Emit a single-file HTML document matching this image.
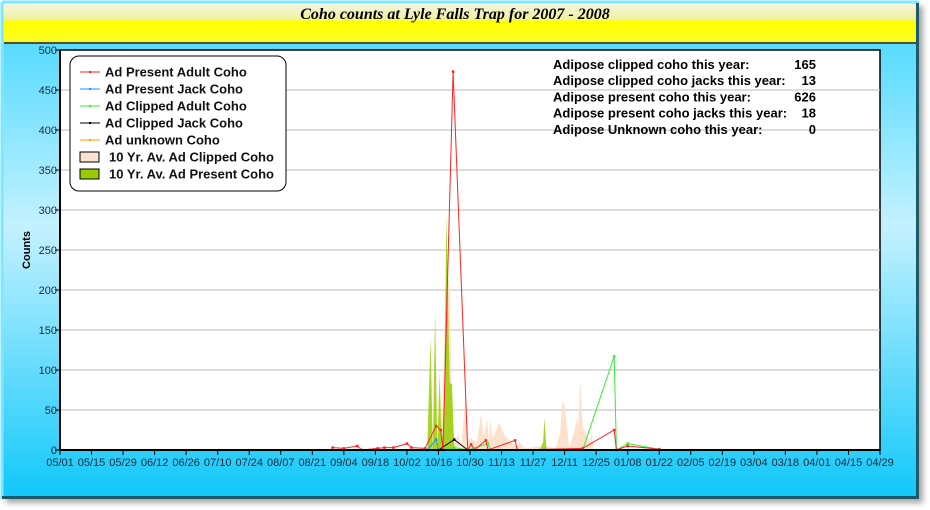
<!DOCTYPE html>
<html><head><meta charset="utf-8"><style>
body{margin:0;width:930px;height:510px;background:#fff;overflow:hidden;font-family:"Liberation Sans",sans-serif}
svg{display:block}
</style></head><body>
<svg id="chart" width="930" height="510" xmlns="http://www.w3.org/2000/svg">
<defs>
<linearGradient id="bg" x1="0" y1="0" x2="0" y2="1">
<stop offset="0" stop-color="#3fd6ff"/><stop offset="0.45" stop-color="#c4f1ff"/><stop offset="1" stop-color="#10c8fa"/>
</linearGradient>
<linearGradient id="tb" x1="0" y1="0" x2="0" y2="1">
<stop offset="0" stop-color="#f6f6e0"/><stop offset="0.4" stop-color="#f0f0a0"/><stop offset="0.45" stop-color="#ffff00"/><stop offset="0.9" stop-color="#ffff20"/><stop offset="1" stop-color="#e8e860"/>
</linearGradient>
<filter id="sh" x="-5%" y="-5%" width="110%" height="110%"><feDropShadow dx="4" dy="4" stdDeviation="3" flood-color="#000" flood-opacity="0.35"/></filter>
</defs>
<rect x="2" y="2" width="917" height="497" fill="url(#bg)" filter="url(#sh)"/>
<path d="M2,2 H919 M2,2 V499" stroke="#7ce8ff" stroke-width="3" fill="none"/>
<path d="M917.5,3 V497.5 H2" stroke="#1a5a6a" stroke-width="3" fill="none"/>
<rect x="3.5" y="3.5" width="912.5" height="39.5" fill="url(#tb)"/>
<line x1="4" y1="43" x2="916" y2="43" stroke="#222" stroke-width="1.5"/>
<text x="455" y="19" text-anchor="middle" font-family="Liberation Serif,serif" font-weight="bold" font-style="italic" font-size="16">Coho counts at Lyle Falls Trap for 2007 - 2008</text>
<rect x="60" y="50" width="820" height="400" fill="#fff" stroke="#000" stroke-width="1.5"/>
<g id="grid"></g><g id="areas"></g><g id="lines"></g><g id="axes"></g>
<text transform="translate(30,250) rotate(-90)" text-anchor="middle" font-weight="bold" font-size="11">Counts</text>
<g>
<rect x="70" y="56" width="216" height="135" rx="9" fill="#fff" stroke="#000" stroke-width="1"/>
<g id="legend-items"></g>
</g>
<g id="stats" font-weight="bold" font-size="13"></g>
</svg>
<script>
const NS='http://www.w3.org/2000/svg';
const xTicks=['05/01','05/15','05/29','06/12','06/26','07/10','07/24','08/07','08/21','09/04','09/18','10/02','10/16','10/30','11/13','11/27','12/11','12/25','01/08','01/22','02/05','02/19','03/04','03/18','04/01','04/15','04/29'];
const yTicks=[0,50,100,150,200,250,300,350,400,450,500];
// day offset from 05/01 and values
const presAdultDays=[121,126,132,134,141,144,148,154,156,162,167,169,170,174.5,181,182.5,184,189,190,202,203,232,246,247,252,266];
const presAdultVals=[3,2,5,0,2,3,3,8,3,2,30,25,0,473,0,7,0,12,0,12,0,2,25,0,5,1];
const presJackDays=[163,167,168,170];
const presJackVals=[0,13,0,0];
const clipAdultDays=[170,175,181,190,191,232,246,247,252,266];
const clipAdultVals=[0,3,0,8,0,0,117,0,8,1];
const clipJackDays=[168,175,181];
const clipJackVals=[0,13,0];
const unknownDays=[170,175];
const unknownVals=[0,0];
const avgClipDays=[168,170,171.5,173,174,175,177,178,180,181,182,185,187,188,189.5,190.5,191,192,195,197,200,203,204,206,209,212,215,220,222,223,224,226,228,229.5,230,231,232,235,236,237,240];
const avgClipVals=[0,60,240,200,60,10,20,0,68,10,15,10,46,15,38,10,38,15,34,20,10,5,10,3,3,4,5,2,20,62,55,3,20,40,30,87,30,10,20,0,0];
const avgPresDays=[163,164.5,165.5,166.5,167.5,168.5,169.5,170.5,171.5,172.5,173,174,175,213,214.5,215,216,240];
const avgPresVals=[0,140,0,175,0,97,0,40,296,150,83,83,0,0,10,40,0,0];
const statLabels=['Adipose clipped coho this year:','Adipose clipped coho jacks this year:','Adipose present coho this year:','Adipose present coho jacks this year:','Adipose Unknown coho this year:'];
const statVals=['165','13','626','18','0'];

const X0=60,X1=880,Y0=450,Y1=50;
const xs=d=>X0+d*(X1-X0)/364;
const ys=v=>Y0-v*(Y0-Y1)/500;
function mk(t,a,p){const e=document.createElementNS(NS,t);for(const k in a)e.setAttribute(k,a[k]);(p||document.getElementById('chart')).appendChild(e);return e;}
const grid=document.getElementById('grid'),axes=document.getElementById('axes');
yTicks.forEach(v=>{
 if(v>0&&v<500){const g=mk('line',{x1:X0,x2:X1,y1:ys(v),y2:ys(v),stroke:'#bbb','stroke-width':1},grid);
 
 }
 mk('line',{x1:X0-5,x2:X0,y1:ys(v),y2:ys(v),stroke:'#000'},axes);
 const t=mk('text',{x:X0-3,y:ys(v)+4,'text-anchor':'end','font-size':11,fill:'#1a2a3a'},axes);
 t.textContent=v;
 
 
});
xTicks.forEach((s,i)=>{
 const x=xs(i*14);
 mk('line',{x1:x,x2:x,y1:Y0,y2:Y0+5,stroke:'#000'},axes);
 const t=mk('text',{x:x,y:Y0+16,'text-anchor':'middle','font-size':11,fill:'#1a2a3a'},axes);
 t.textContent=s;
 
 
});
mk('line',{x1:X0,x2:X0,y1:Y1,y2:Y0,stroke:'#000','stroke-width':2},axes);
mk('line',{x1:X0,x2:X1,y1:Y0,y2:Y0,stroke:'#000','stroke-width':2},axes);

const areas=document.getElementById('areas');
function area(days,vals,fill,name){
 let pts=xs(days[0])+','+Y0+' ';
 days.forEach((d,i)=>pts+=xs(d)+','+ys(vals[i])+' ');
 pts+=xs(days[days.length-1])+','+Y0;
 const p=mk('polygon',{points:pts,fill:fill,'fill-opacity':0.85},areas);
 
 
}
area(avgClipDays,avgClipVals,'#fcdcc4','avg-clipped-area');
area(avgPresDays,avgPresVals,'#99cc00','avg-present-area');
const lines=document.getElementById('lines');
function series(days,vals,col,name){
 const pts=days.map((d,i)=>xs(d)+','+ys(vals[i])).join(' ');
 const p=mk('polyline',{points:pts,fill:'none',stroke:col,'stroke-width':1},lines);
 
 
 days.forEach((d,i)=>{const r=mk('rect',{x:xs(d)-1.25,y:ys(vals[i])-1.25,width:2.5,height:2.5,fill:col},lines);
 
 });
}
series(unknownDays,unknownVals,'#ff9900','unknown-coho-line');
series(clipAdultDays,clipAdultVals,'#33ee33','clipped-adult-line');
series(clipJackDays,clipJackVals,'#000','clipped-jack-line');
series(presJackDays,presJackVals,'#1199ff','present-jack-line');
series(presAdultDays,presAdultVals,'#ff2222','present-adult-line');

const leg=document.getElementById('legend-items');
const legNames=['Ad Present Adult Coho','Ad Present Jack Coho','Ad Clipped Adult Coho','Ad Clipped Jack Coho','Ad unknown Coho','10 Yr. Av. Ad Clipped Coho','10 Yr. Av. Ad Present Coho'];
const legCols=['#ff2222','#1199ff','#33ee33','#000','#ff9900','#fde2d0','#99cc00'];
legNames.forEach((n,i)=>{
 const y=72+i*17;
 const g=mk('g',{},leg);
 
 
 if(i<5){mk('line',{x1:80,x2:100,y1:y,y2:y,stroke:legCols[i]},g);mk('rect',{x:89,y:y-1,width:2,height:2,fill:legCols[i]},g);}
 else mk('rect',{x:80,y:y-5,width:19,height:10,fill:legCols[i],stroke:'#000'},g);
 const t=mk('text',{x:i<5?105:109,y:y+4.5,'font-size':13,'font-weight':'bold',fill:'#111'},g);
 t.textContent=n;
});
const st=document.getElementById('stats');
statLabels.forEach((l,i)=>{
 const y=69+i*16.2;
 const a=mk('text',{x:553,y:y},st);a.textContent=l;
 
 
 const b=mk('text',{x:816,y:y,'text-anchor':'end'},st);b.textContent=statVals[i];
 
 
});
</script>
</body></html>
